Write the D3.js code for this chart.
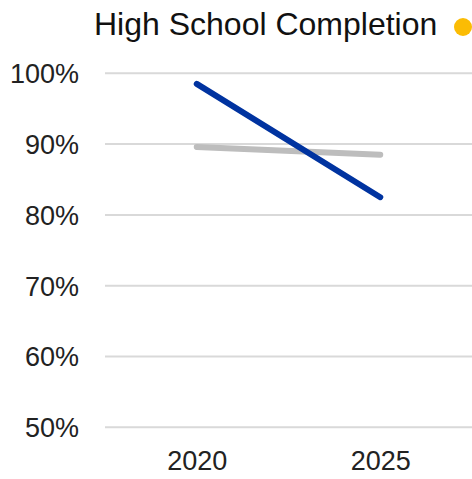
<!DOCTYPE html>
<html><head><meta charset="utf-8">
<script src="https://cdn.jsdelivr.net/npm/d3@7"></script>
<style>body{margin:0;background:#fff}svg{display:block}text{font-family:"Liberation Sans",Arial,sans-serif}</style>
</head><body>
<script>
const categories = ["2020", "2025"];
const seriesNames = ["Comparison", "High School Completion"];
const grayValues = [89.6, 88.5];
const blueValues = [98.5, 82.5];
const yTicks = [50, 60, 70, 80, 90, 100];
const title = "High School Completion";

const W = 472, H = 479;
const svg = d3.select("body").append("svg").attr("width", W).attr("height", H);
const x = d3.scalePoint().domain(categories).range([105, 472]).padding(0.5);
const y = d3.scaleLinear().domain([50, 100]).range([427.3, 73.3]);

svg.append("g").selectAll("line").data(yTicks).join("line")
  .attr("x1", 105).attr("x2", W).attr("y1", d => y(d)).attr("y2", d => y(d))
  .attr("stroke", "#d9d9d9").attr("stroke-width", 2);

const yAxis = d3.axisLeft(y).tickValues(yTicks).tickSize(0).tickPadding(0).tickFormat(d => d + "%");
const gy = svg.append("g").attr("transform", "translate(79,0)").call(yAxis);
gy.select(".domain").remove();
gy.selectAll("text").attr("font-size", 27).attr("fill", "#222").attr("dy", "0.35em")
  .style("font-family", '"Liberation Sans",Arial,sans-serif');

const xAxis = d3.axisBottom(x).tickSize(0).tickPadding(0);
const gx = svg.append("g").attr("transform", "translate(0,451)").call(xAxis);
gx.select(".domain").remove();
gx.selectAll("text").attr("font-size", 27).attr("fill", "#222").attr("dy", "0.71em")
  .style("font-family", '"Liberation Sans",Arial,sans-serif');

const line = d3.line().x((d, i) => x(categories[i])).y(d => y(d));
svg.append("path").datum(grayValues).attr("d", line).attr("fill", "none")
  .attr("stroke", "#bdbdbd").attr("stroke-width", 6).attr("stroke-linecap", "round");
svg.append("path").datum(blueValues).attr("d", line).attr("fill", "none")
  .attr("stroke", "#0033a0").attr("stroke-width", 6).attr("stroke-linecap", "round");

svg.append("text").attr("x", 94).attr("y", 35).attr("font-size", 32).attr("fill", "#111").text(title);
svg.append("circle").attr("cx", 463).attr("cy", 27).attr("r", 9).attr("fill", "#fbbc04");
</script>
</body></html>
